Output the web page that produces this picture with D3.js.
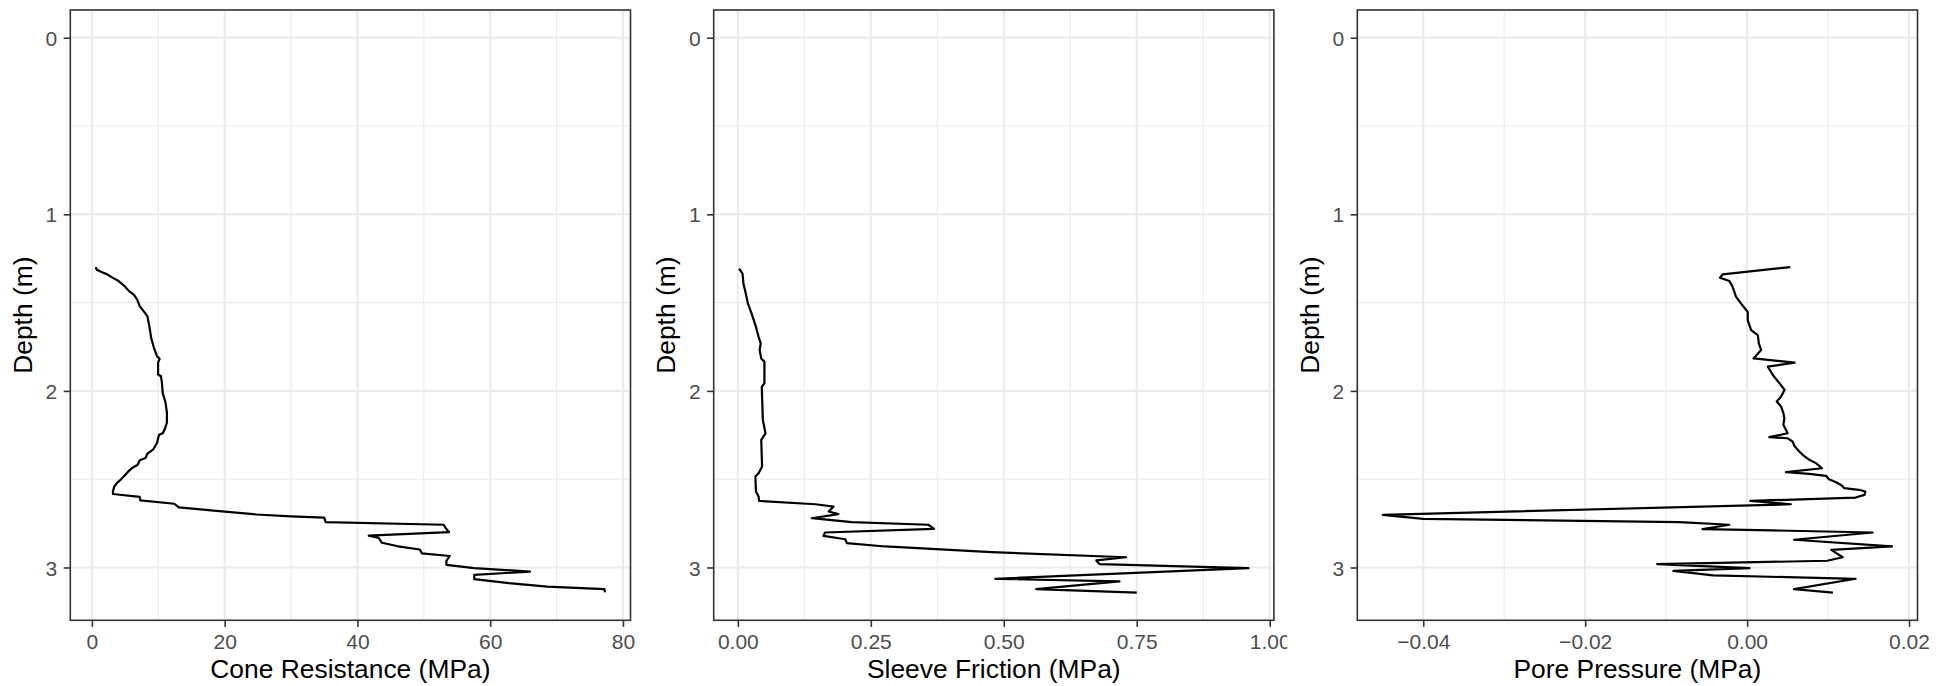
<!DOCTYPE html>
<html>
<head>
<meta charset="utf-8">
<script src="https://cdn.jsdelivr.net/npm/d3@7"></script>
<style>
  html, body { margin: 0; padding: 0; background: #ffffff; }
  svg { display: block; }
  text { font-family: "Liberation Sans", Arial, Helvetica, sans-serif; }
</style>
</head>
<body>
<svg id="chart" width="1952" height="686"></svg>
<script>
// ---------- data ----------
const coneDepth = [1.299,1.312,1.327,1.34,1.36,1.378,1.406,1.435,1.456,1.482,1.52,1.548,1.577,1.633,1.70,1.756,1.803,1.818,1.84,1.907,1.917,1.955,2.011,2.068,2.125,2.18,2.219,2.238,2.25,2.295,2.333,2.355,2.38,2.393,2.418,2.437,2.456,2.48,2.503,2.522,2.544,2.569,2.584,2.60,2.62,2.639,2.66,2.682,2.70,2.711,2.718,2.743,2.758,2.777,2.80,2.82,2.832,2.86,2.88,2.898,2.92,2.935,2.963,2.985,3.004,3.023,3.042,3.066,3.089,3.108,3.123,3.14];
const coneResistance = [0.58,0.69,1.44,2.3,3.17,4.03,4.9,5.6,6.34,6.8,7.2,7.78,8.36,8.65,8.93,9.34,9.8,10.2,9.97,9.97,10.4,10.55,10.66,11.1,11.3,11.3,10.95,10.7,10.1,9.8,9.2,8.36,8.07,7.2,6.9,6.05,5.48,4.9,4.32,3.75,3.34,3.17,3.17,7.2,7.3,12.4,13.1,19.6,24.8,30,35,35.2,53,53.3,53.8,41.7,43.2,43.7,46.1,49.4,49.7,53.9,53.4,53.4,57.6,66,57.6,57.6,62.8,68.6,77.2,77.3];

const sleeveDepth = [1.308,1.336,1.393,1.449,1.506,1.562,1.637,1.694,1.731,1.769,1.816,1.835,1.957,1.976,2.164,2.24,2.277,2.428,2.466,2.485,2.570,2.598,2.623,2.642,2.655,2.683,2.698,2.721,2.743,2.758,2.781,2.802,2.821,2.840,2.862,2.881,2.913,2.942,2.96,2.981,3.004,3.064,3.079,3.123,3.142];
const sleeveFriction = [0.0025,0.0088,0.0106,0.015,0.019,0.026,0.034,0.039,0.043,0.041,0.044,0.05,0.05,0.045,0.047,0.052,0.044,0.0456,0.039,0.033,0.034,0.039,0.040,0.146,0.18,0.171,0.189,0.139,0.214,0.358,0.369,0.164,0.161,0.202,0.205,0.277,0.477,0.73,0.674,0.68,0.96,0.484,0.7175,0.561,0.75];

const poreDepth = [1.299,1.34,1.359,1.378,1.412,1.468,1.506,1.553,1.60,1.656,1.684,1.731,1.769,1.816,1.84,1.863,1.91,1.957,1.994,2.032,2.06,2.089,2.126,2.155,2.192,2.24,2.262,2.268,2.287,2.311,2.334,2.362,2.39,2.409,2.438,2.46,2.47,2.481,2.5,2.517,2.536,2.551,2.56,2.57,2.589,2.604,2.623,2.642,2.702,2.725,2.743,2.758,2.783,2.79,2.802,2.843,2.881,2.9,2.942,2.962,2.981,3.004,3.019,3.045,3.064,3.123,3.142];
const porePressure = [0.00533,-0.00302,-0.00335,-0.00219,-0.00178,-0.00136,-0.00074,0.00008,0.00008,0.0005,0.00132,0.00145,0.00174,0.00079,0.00587,0.00256,0.00318,0.004,0.00463,0.0042,0.00366,0.0042,0.00448,0.0046,0.00448,0.005,0.00275,0.005,0.00563,0.00583,0.00625,0.00686,0.00768,0.0085,0.00924,0.0048,0.00768,0.00974,0.0101,0.011,0.0117,0.012,0.0138,0.0146,0.0145,0.0134,0.0004,0.0054,-0.045,-0.04,-0.00834,-0.0022,-0.0055,0.0032,0.0155,0.0058,0.0179,0.0104,0.0118,0.0099,-0.0111,0.0003,-0.0091,-0.0042,0.0134,0.0058,0.0106];

const depthTicks = [0, 1, 2, 3];
const coneTicks = [0, 20, 40, 60, 80];
const sleeveTicks = [0, 0.25, 0.5, 0.75, 1.0];
const poreTicks = [-0.04, -0.02, 0, 0.02];

const xTitles = ["Cone Resistance (MPa)", "Sleeve Friction (MPa)", "Pore Pressure (MPa)"];
const yTitle = "Depth (m)";

// ---------- layout ----------
const svg = d3.select("#chart");
const W = 1952, H = 686;
const panelTop = 10, panelBottom = 620.3, panelW = 560.2;
const panelLefts = [70.3, 713.7, 1357.3];
const tickLen = 6.6;
const gridCol = "#EBEBEB", darkCol = "#333333", tickTextCol = "#4D4D4D";

svg.append("rect").attr("width", W).attr("height", H).attr("fill", "#ffffff");

function expand(ext) {
  const r = ext[1] - ext[0];
  return [ext[0] - 0.05 * r, ext[1] + 0.05 * r];
}

const allDepths = coneDepth.concat(sleeveDepth, poreDepth);
const yDomain = expand([0, d3.max(allDepths)]);

const panels = [
  { depth: coneDepth, vals: coneResistance, ticks: coneTicks, fmt: d3.format("d"), title: xTitles[0] },
  { depth: sleeveDepth, vals: sleeveFriction, ticks: sleeveTicks, fmt: d3.format(".2f"), title: xTitles[1] },
  { depth: poreDepth, vals: porePressure, ticks: poreTicks, fmt: d3.format(".2f"), title: xTitles[2] }
];

panels.forEach((p, i) => {
  const left = panelLefts[i], right = left + panelW;

  // plot background (covers overflow from previous plot, as in the original layout)
  if (i > 0) {
    const bgLeft = panelLefts[i - 1] + panelW + 13.3;
    svg.append("rect").attr("x", bgLeft).attr("y", 0)
      .attr("width", W - bgLeft).attr("height", H).attr("fill", "#ffffff");
  }

  const g = svg.append("g");
  const x = d3.scaleLinear().domain(expand(d3.extent(p.vals))).range([left, right]);
  const y = d3.scaleLinear().domain(yDomain).range([panelTop, panelBottom]);

  const xdom = x.domain(), ydom = y.domain();
  const xStep = p.ticks[1] - p.ticks[0];
  const xMinor = p.ticks.map(v => v - xStep / 2).concat([p.ticks[p.ticks.length - 1] + xStep / 2])
    .filter(v => v > xdom[0] && v < xdom[1]);
  const yStep = depthTicks[1] - depthTicks[0];
  const yMinor = depthTicks.map(v => v - yStep / 2).concat([depthTicks[depthTicks.length - 1] + yStep / 2])
    .filter(v => v > ydom[0] && v < ydom[1]);

  // minor grid
  g.selectAll(null).data(xMinor).enter().append("line")
    .attr("x1", d => x(d)).attr("x2", d => x(d)).attr("y1", panelTop).attr("y2", panelBottom)
    .attr("stroke", gridCol).attr("stroke-width", 1.1);
  g.selectAll(null).data(yMinor).enter().append("line")
    .attr("y1", d => y(d)).attr("y2", d => y(d)).attr("x1", left).attr("x2", right)
    .attr("stroke", gridCol).attr("stroke-width", 1.1);
  // major grid
  g.selectAll(null).data(p.ticks).enter().append("line")
    .attr("x1", d => x(d)).attr("x2", d => x(d)).attr("y1", panelTop).attr("y2", panelBottom)
    .attr("stroke", gridCol).attr("stroke-width", 2.1);
  g.selectAll(null).data(depthTicks).enter().append("line")
    .attr("y1", d => y(d)).attr("y2", d => y(d)).attr("x1", left).attr("x2", right)
    .attr("stroke", gridCol).attr("stroke-width", 2.1);

  // data line
  const pts = p.depth.map((d, k) => [p.vals[k], d]);
  g.append("path").datum(pts)
    .attr("fill", "none").attr("stroke", "#000000").attr("stroke-width", 2.2)
    .attr("stroke-linejoin", "round")
    .attr("d", d3.line().x(d => x(d[0])).y(d => y(d[1])));

  // border
  g.append("rect").attr("x", left).attr("y", panelTop)
    .attr("width", panelW).attr("height", panelBottom - panelTop)
    .attr("fill", "none").attr("stroke", darkCol).attr("stroke-width", 1.6);

  // x axis
  const xa = g.append("g").attr("transform", `translate(0,${panelBottom})`)
    .call(d3.axisBottom(x).tickValues(p.ticks).tickFormat(p.fmt).tickSize(tickLen).tickSizeOuter(0));
  xa.select(".domain").remove();
  xa.selectAll(".tick line").attr("stroke", darkCol).attr("stroke-width", 1.6);
  xa.selectAll(".tick text").attr("y", 29).attr("dy", 0)
    .attr("fill", tickTextCol).attr("font-size", 21)
    .attr("font-family", "'Liberation Sans', Arial, Helvetica, sans-serif");

  // y axis
  const ya = g.append("g").attr("transform", `translate(${left},0)`)
    .call(d3.axisLeft(y).tickValues(depthTicks).tickFormat(d3.format("d")).tickSize(tickLen).tickPadding(6.4).tickSizeOuter(0));
  ya.select(".domain").remove();
  ya.selectAll(".tick line").attr("stroke", darkCol).attr("stroke-width", 1.6);
  ya.selectAll(".tick text").attr("dy", "0.36em")
    .attr("fill", tickTextCol).attr("font-size", 21)
    .attr("font-family", "'Liberation Sans', Arial, Helvetica, sans-serif");

  // titles
  g.append("text").attr("x", (left + right) / 2).attr("y", 678.3)
    .attr("text-anchor", "middle").attr("font-size", 26.4).attr("fill", "#000000")
    .text(p.title);
  g.append("text")
    .attr("transform", `translate(${left - 38.5},${(panelTop + panelBottom) / 2}) rotate(-90)`)
    .attr("text-anchor", "middle").attr("font-size", 26.4).attr("fill", "#000000")
    .text(yTitle);
});
</script>
</body>
</html>
